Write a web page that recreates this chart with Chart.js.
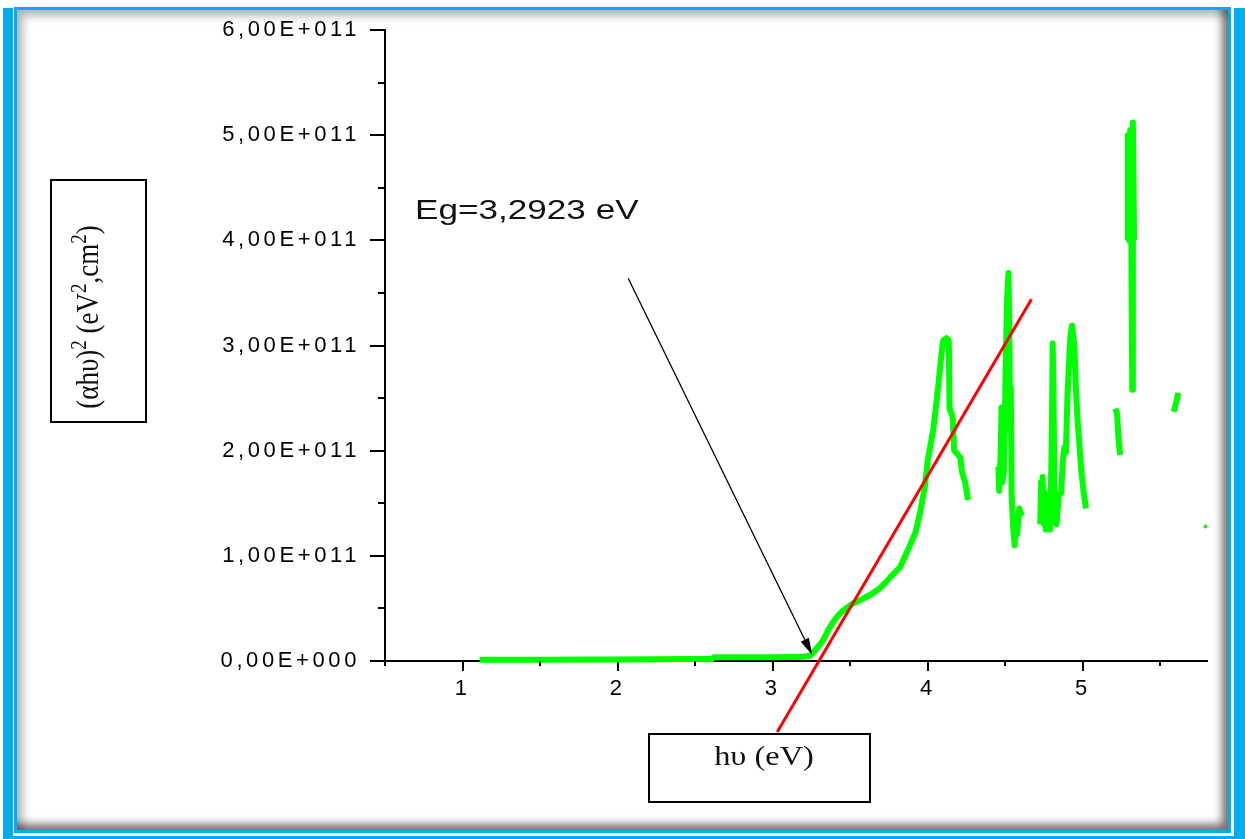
<!DOCTYPE html>
<html><head><meta charset="utf-8">
<script src="https://cdn.jsdelivr.net/npm/chart.js@4.4.1/dist/chart.umd.min.js"></script>
<style>
html,body{margin:0;padding:0;background:#fff;width:1245px;height:839px;overflow:hidden;position:relative}
.bar{position:absolute;background:#00aeef}
#inner{position:absolute;left:14px;top:7px;width:1211px;height:820px;border:3px solid #00aeef;background:#fff;
 box-shadow: inset -6px -6px 8px rgba(0,0,0,.55), inset 6px 6px 8px rgba(0,0,0,.28)}
#c{position:absolute;left:0;top:0}
</style></head>
<body>
<div class="bar" style="left:3px;top:8px;width:10px;height:831px"></div>
<div class="bar" style="left:1234px;top:8px;width:11px;height:831px"></div>
<div class="bar" style="left:3px;top:836px;width:1242px;height:3px"></div>
<div id="inner"></div>
<canvas id="c" width="1245" height="839"></canvas>
<script>
// ---- data (values in units of 1e11 eV^2.cm^2) ----
const energy = [
 1.11,1.5,2.0,2.5,2.61,2.62,3.0,3.2,3.24,3.261,3.30,3.326,3.36,3.39,3.42,3.455,3.52,3.58,3.63,3.69,3.73,3.76,3.82,3.87,3.92,3.95,3.98,4.00,4.035,4.055,4.08,4.094,4.10,4.12,4.135,4.14,4.16,4.17,4.19,4.21,4.22,4.24,4.26,
 4.35,
 4.455,4.46,4.47,4.475,4.48,4.49,4.50,4.51,4.52,4.525,4.53,4.535,4.54,4.55,4.56,4.565,4.575,4.59,4.605,
 4.66,
 4.725,4.73,4.735,4.74,4.75,4.755,4.76,4.77,4.78,4.79,4.80,4.805,4.81,4.815,4.82,4.83,4.845,4.86,4.87,4.88,4.89,4.90,4.91,4.92,4.93,4.945,4.955,4.965,4.975,4.99,5.005,5.02,
 5.1,
 5.21,5.22,5.23,5.24,
 5.26,
 5.285,5.29,5.298,5.305,5.312,5.318,5.322,5.33,
 5.45,
 5.585,5.60,5.615,
 5.7,
 5.79
];
const alphaHv2 = [
 0.012,0.012,0.015,0.018,0.02,0.035,0.035,0.04,0.05,0.08,0.15,0.20,0.30,0.37,0.43,0.48,0.55,0.59,0.63,0.69,0.75,0.80,0.89,1.05,1.22,1.41,1.65,1.91,2.20,2.45,2.80,3.00,3.05,3.07,3.05,2.40,2.32,2.00,1.97,1.93,1.80,1.70,1.53,
 null,
 1.85,1.62,1.98,2.41,1.70,1.80,2.60,3.40,3.69,3.20,2.20,2.60,1.60,1.27,1.10,1.30,1.20,1.45,1.38,
 null,
 1.30,1.70,1.40,1.75,1.30,1.60,1.25,1.50,1.30,1.25,2.20,3.02,2.60,1.80,1.40,1.30,1.58,1.60,1.90,2.03,1.98,2.50,2.83,3.10,3.19,3.00,2.58,2.30,2.10,1.80,1.60,1.45,
 null,
 2.40,2.35,2.10,1.96,
 null,
 4.00,5.00,4.00,5.05,4.05,2.58,5.12,4.00,
 null,
 2.37,2.45,2.55,
 null,
 1.28
];
const fitEnergy = [3.029, 4.668];
const fitValue = [-0.675, 3.44];
const xTickValues = [1, 2, 3, 4, 5];
const xTickLabels = ['1', '2', '3', '4', '5'];
const xMinorValues = [0.5, 1.5, 2.5, 3.5, 4.5, 5.5];
const yTickValues = [0, 1, 2, 3, 4, 5, 6];
const yTickLabels = ['0,00E+000','1,00E+011','2,00E+011','3,00E+011','4,00E+011','5,00E+011','6,00E+011'];
const yMinorValues = [0.5, 1.5, 2.5, 3.5, 4.5, 5.5];
const gapLabel = 'Eg=3,2923 eV';
const xTitle = 'h\u03C5 (eV)';
const yTitleParts = [['(\u03B1h\u03C5)',0],['2',1],[' (eV',0],['2',1],[',cm',0],['2',1],[')',0]];

// annotation anchors (data coordinates)
const labelAnchor = {x: 0.694, y: 4.20};
const arrowFrom = {x: 2.068, y: 3.64};
const arrowTo = {x: 3.255, y: 0.057};

const TICK_FONT = {family: "'Liberation Sans', Arial, sans-serif", size: 22};

const decorPlugin = {
  id: 'decor',
  beforeLayout(chart){ chart.ctx.letterSpacing = '3.6px'; },
  beforeDraw(chart){ chart.ctx.letterSpacing = '3.6px'; },
  afterDraw(chart){
    const ctx = chart.ctx, xs = chart.scales.x, ys = chart.scales.y;
    const ca = chart.chartArea;
    ctx.save();
    ctx.letterSpacing = '0px';
    ctx.strokeStyle = '#000'; ctx.lineWidth = 2;
    // minor ticks
    ctx.beginPath();
    xMinorValues.forEach(v => { const p = Math.round(xs.getPixelForValue(v)); ctx.moveTo(p, ca.bottom); ctx.lineTo(p, ca.bottom + 5); });
    yMinorValues.forEach(v => { const p = Math.round(ys.getPixelForValue(v)); ctx.moveTo(ca.left - 7, p); ctx.lineTo(ca.left, p); });
    ctx.stroke();
    // arrow
    const x1 = xs.getPixelForValue(arrowFrom.x), y1 = ys.getPixelForValue(arrowFrom.y);
    const x2 = xs.getPixelForValue(arrowTo.x), y2 = ys.getPixelForValue(arrowTo.y);
    const ang = Math.atan2(y2 - y1, x2 - x1);
    const hl = 17, hw = 4.5;
    ctx.lineWidth = 1.3;
    ctx.beginPath();
    ctx.moveTo(x1, y1);
    ctx.lineTo(x2 - Math.cos(ang) * hl, y2 - Math.sin(ang) * hl);
    ctx.stroke();
    ctx.fillStyle = '#000';
    ctx.beginPath();
    ctx.moveTo(x2, y2);
    ctx.lineTo(x2 - Math.cos(ang) * hl - Math.sin(ang) * hw, y2 - Math.sin(ang) * hl + Math.cos(ang) * hw);
    ctx.lineTo(x2 - Math.cos(ang) * hl + Math.sin(ang) * hw, y2 - Math.sin(ang) * hl - Math.cos(ang) * hw);
    ctx.closePath(); ctx.fill();
    // Eg label
    ctx.save();
    ctx.translate(xs.getPixelForValue(labelAnchor.x), ys.getPixelForValue(labelAnchor.y));
    ctx.scale(1.3, 1);
    ctx.font = "27px 'Liberation Sans', Arial, sans-serif";
    ctx.fillStyle = '#111'; ctx.textBaseline = 'alphabetic'; ctx.textAlign = 'left';
    ctx.fillText(gapLabel, 0, 0);
    ctx.restore();
    // y title box
    ctx.lineWidth = 2; ctx.strokeStyle = '#000';
    ctx.strokeRect(51, 180, 95, 242);
    ctx.save();
    ctx.translate(98, 317);
    ctx.scale(1.2, 1);
    ctx.rotate(-Math.PI / 2);
    const fBig = "27px 'Liberation Serif', 'Times New Roman', serif";
    const fSmall = "19px 'Liberation Serif', 'Times New Roman', serif";
    let total = 0;
    yTitleParts.forEach(([t, s]) => { ctx.font = s ? fSmall : fBig; total += ctx.measureText(t).width; });
    let cx = -total / 2;
    ctx.fillStyle = '#111'; ctx.textAlign = 'left'; ctx.textBaseline = 'alphabetic';
    yTitleParts.forEach(([t, s]) => { ctx.font = s ? fSmall : fBig; ctx.fillText(t, cx, s ? -10 : 0); cx += ctx.measureText(t).width; });
    ctx.restore();
    // x title box
    ctx.strokeRect(649, 734, 221, 68);
    ctx.save();
    ctx.translate(764, 765);
    ctx.scale(1.2, 1);
    ctx.font = "27px 'Liberation Serif', 'Times New Roman', serif";
    ctx.fillStyle = '#111'; ctx.textAlign = 'center'; ctx.textBaseline = 'alphabetic';
    ctx.fillText(xTitle, 0, 0);
    ctx.restore();
    ctx.restore();
  }
};

new Chart(document.getElementById('c'), {
  type: 'line',
  data: {
    datasets: [
      {
        label: 'fit',
        data: fitEnergy.map((x, i) => ({x, y: fitValue[i]})),
        borderColor: '#ff0000', borderWidth: 3, pointRadius: 0, clip: false, tension: 0
      },
      {
        label: '(\u03B1h\u03C5)\u00B2',
        data: energy.map((x, i) => ({x, y: alphaHv2[i]})),
        borderColor: '#00ff00', backgroundColor: '#00ff00', borderWidth: 6,
        pointRadius: (c) => {
          const i = c.dataIndex;
          return (alphaHv2[i] != null && alphaHv2[i - 1] == null && alphaHv2[i + 1] == null) ? 2 : 0;
        },
        pointBorderWidth: 0, pointBackgroundColor: '#00ff00',
        spanGaps: false, tension: 0, clip: false, borderJoinStyle: 'round'
      }
    ]
  },
  options: {
    responsive: false, animation: false, devicePixelRatio: 1,
    layout: {padding: {top: 30, right: 38, bottom: 0, left: 0}},
    plugins: {legend: {display: false}, tooltip: {enabled: false}},
    scales: {
      x: {
        type: 'linear', min: 0.5, max: 5.8, position: 'bottom',
        grid: {drawOnChartArea: false, drawTicks: true, tickLength: 10, color: '#000', lineWidth: 2},
        border: {display: true, color: '#000', width: 2},
        ticks: {color: '#000', font: TICK_FONT, padding: 5, maxRotation: 0, autoSkip: false,
          callback: (v) => { const k = xTickValues.indexOf(v); return k >= 0 ? xTickLabels[k] : ''; }},
        afterBuildTicks: (s) => { s.ticks = xTickValues.map(v => ({value: v})); },
        afterFit: (s) => { s.height = 178; }
      },
      y: {
        type: 'linear', min: 0, max: 6, position: 'left',
        grid: {drawOnChartArea: false, drawTicks: true, tickLength: 15, color: '#000', lineWidth: 2},
        border: {display: true, color: '#000', width: 2},
        ticks: {color: '#000', font: TICK_FONT, padding: 10, autoSkip: false,
          callback: (v) => { const k = yTickValues.indexOf(v); return k >= 0 ? yTickLabels[k] : ''; }},
        afterBuildTicks: (s) => { s.ticks = yTickValues.map(v => ({value: v})); },
        afterFit: (s) => { s.width = 385; }
      }
    }
  },
  plugins: [decorPlugin]
});
</script>
</body></html>
